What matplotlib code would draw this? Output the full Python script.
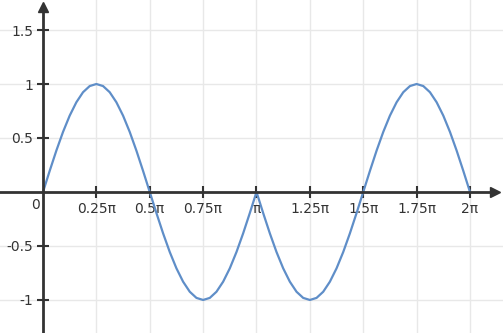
import matplotlib.pyplot as plt

# x in multiples of pi, step pi/32
x_pi = [k / 32 for k in range(65)]
y_vals = [
    0.000, 0.195, 0.383, 0.556, 0.707, 0.831, 0.924, 0.981, 1.000,
    0.981, 0.924, 0.831, 0.707, 0.556, 0.383, 0.195, 0.000,
    -0.195, -0.383, -0.556, -0.707, -0.831, -0.924, -0.981, -1.000,
    -0.981, -0.924, -0.831, -0.707, -0.556, -0.383, -0.195, 0.000,
    -0.195, -0.383, -0.556, -0.707, -0.831, -0.924, -0.981, -1.000,
    -0.981, -0.924, -0.831, -0.707, -0.556, -0.383, -0.195, 0.000,
    0.195, 0.383, 0.556, 0.707, 0.831, 0.924, 0.981, 1.000,
    0.981, 0.924, 0.831, 0.707, 0.556, 0.383, 0.195, 0.000,
]

x_ticks = [0.25, 0.5, 0.75, 1, 1.25, 1.5, 1.75, 2]
x_labels = ['0.25π', '0.5π', '0.75π', 'π', '1.25π', '1.5π', '1.75π', '2π']
y_ticks = [-1, -0.5, 0.5, 1, 1.5]
y_labels = ['-1', '-0.5', '0.5', '1', '1.5']

axis_col = '#333333'
line_col = '#5f8ec8'
grid_col = '#e8e8e8'

fig = plt.figure(figsize=(5.03, 3.33), dpi=100)
ax = fig.add_axes([0, 0, 1, 1])
ax.set_xlim(-0.2014, 2.1546)
ax.set_ylim(-1.306, 1.778)

ax.plot(x_pi, y_vals, color=line_col, lw=1.6, zorder=3, solid_capstyle='round')

ax.set_xticks(x_ticks)
ax.set_xticklabels(x_labels)
ax.set_yticks(y_ticks)
ax.set_yticklabels(y_labels)
ax.grid(True, color=grid_col, lw=1)
ax.set_axisbelow(True)

for side in ['top', 'right']:
    ax.spines[side].set_visible(False)
ax.spines['left'].set_position(('data', 0))
ax.spines['bottom'].set_position(('data', 0))
ax.spines['left'].set_bounds(-1.306, 1.70)
ax.spines['bottom'].set_bounds(-0.2014, 2.10)
for side in ['left', 'bottom']:
    ax.spines[side].set_color(axis_col)
    ax.spines[side].set_linewidth(2)
    ax.spines[side].set_zorder(4)

ax.tick_params(direction='inout', length=8, width=1.5, color=axis_col,
               labelsize=10, labelcolor=axis_col, pad=3)

# arrow heads
ax.plot(0, 1.71, marker='^', color=axis_col, markersize=7, clip_on=False, zorder=5)
ax.plot(2.115, 0, marker='>', color=axis_col, markersize=7, clip_on=False, zorder=5)

ax.text(-0.035, -0.12, '0', ha='center', va='center', fontsize=10, color=axis_col)

fig.savefig('out.png', dpi=100)
